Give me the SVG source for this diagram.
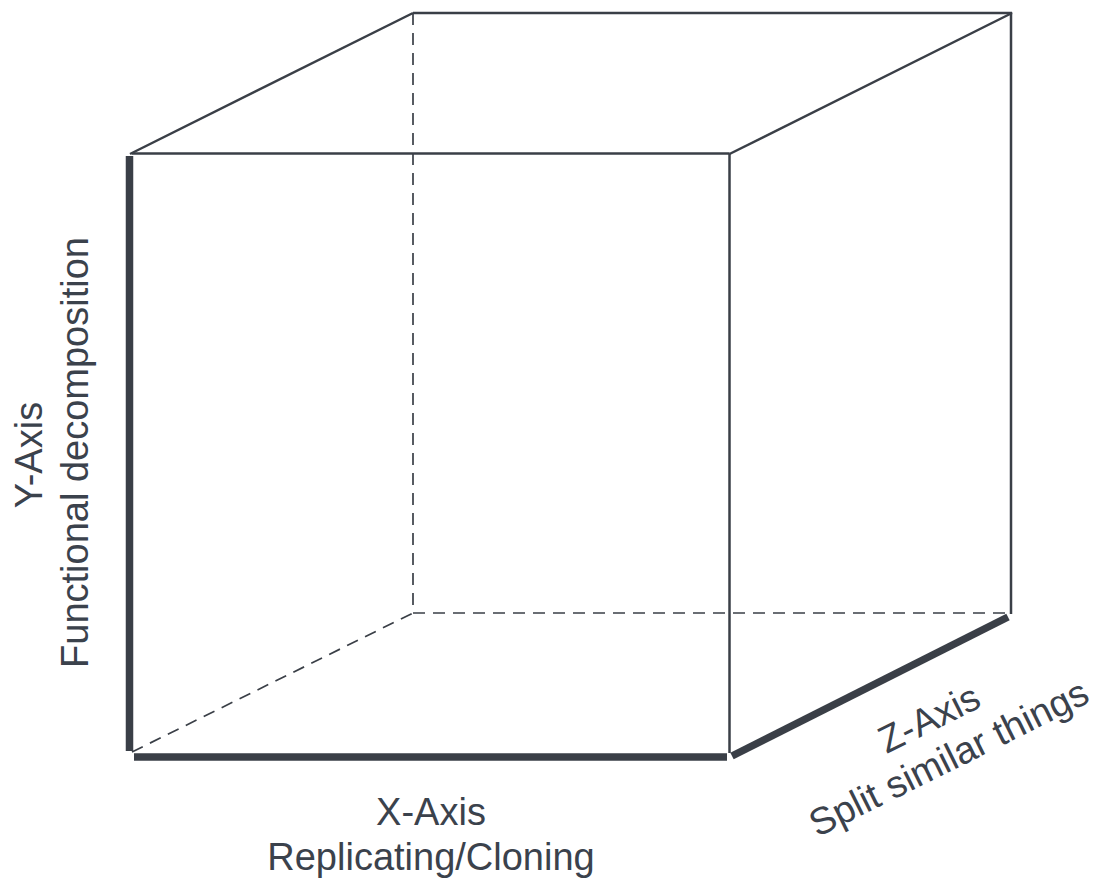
<svg xmlns="http://www.w3.org/2000/svg" width="1098" height="882" viewBox="0 0 1098 882">
  <style>
    .edge { stroke: #3a3f47; stroke-width: 2.5; fill: none; }
    .hidden { stroke: #3a3f47; stroke-width: 1.7; fill: none; stroke-dasharray: 12 8; }
    .axis { stroke: #3a3f47; stroke-width: 7.5; fill: none; }
    .label { font-family: "Liberation Sans", Arial, sans-serif; font-size: 38px; fill: #3b424c; text-anchor: middle; }
  </style>
  <rect width="1098" height="882" fill="#ffffff"/>

  <!-- cube edges -->
  <g id="cube">
    <!-- hidden back edges -->
    <line class="hidden" x1="413" y1="13" x2="413" y2="613"/>
    <line class="hidden" x1="413" y1="613" x2="1011" y2="613"/>
    <line class="hidden" x1="132" y1="752" x2="413" y2="613"/>
    <!-- visible edges -->
    <line class="edge" x1="132" y1="153.5" x2="729.5" y2="153.5"/>
    <line class="edge" x1="729.5" y1="153.5" x2="729.5" y2="753"/>
    <line class="edge" x1="130" y1="154" x2="413" y2="13"/>
    <line class="edge" x1="413" y1="13" x2="1012" y2="13"/>
    <line class="edge" x1="729.5" y1="154" x2="1012" y2="13"/>
    <line class="edge" x1="1011" y1="12" x2="1011" y2="614"/>
  </g>

  <!-- highlighted axes -->
  <g id="axes">
    <line id="y-axis" class="axis" x1="129.5" y1="156" x2="129.5" y2="751"/>
    <line id="x-axis" class="axis" x1="134" y1="757" x2="727" y2="757"/>
    <line id="z-axis" class="axis" x1="732" y1="756" x2="1008" y2="617"/>
  </g>

  <!-- axis labels -->
  <g id="label-x">
    <text class="label" x="431" y="825">X-Axis</text>
    <text class="label" x="431" y="870">Replicating/Cloning</text>
  </g>
  <g id="label-y">
    <text class="label" transform="translate(42,455) rotate(-90)">Y-Axis</text>
    <text class="label" transform="translate(88,452.5) rotate(-90)">Functional decomposition</text>
  </g>
  <g id="label-z" transform="translate(905,670) rotate(-26.4)">
    <text class="label" x="0" y="67">Z-Axis</text>
    <text class="label" x="0" y="111">Split similar things</text>
  </g>
</svg>
